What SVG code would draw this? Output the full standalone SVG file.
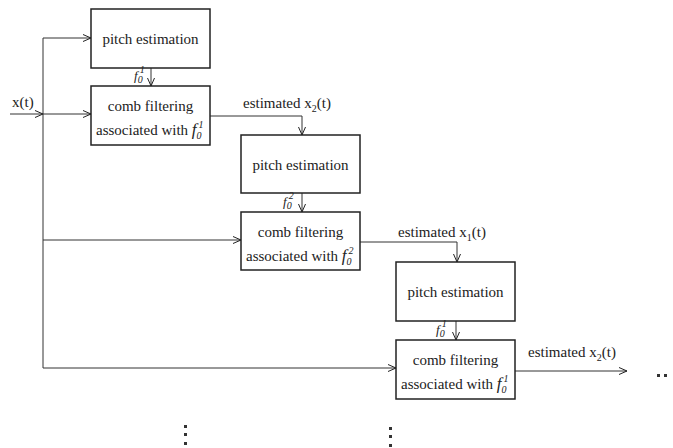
<svg xmlns="http://www.w3.org/2000/svg" width="673" height="448" viewBox="0 0 673 448" font-family="'Liberation Serif','Times New Roman',Times,serif">
<defs>
<marker id="arr" viewBox="0 0 8 8" refX="8" refY="4" markerWidth="8" markerHeight="8" markerUnits="userSpaceOnUse" orient="auto">
<path d="M0,0.5 L8,4 L0,7.5" fill="none" stroke="#222" stroke-width="1"/>
</marker>
</defs>
<style>
.box{fill:#fff;stroke:#222;stroke-width:1.5}
.ln{fill:none;stroke:#333;stroke-width:1}
.t{font-family:'Liberation Serif','Times New Roman',Times,serif;font-size:15px;fill:#222}
.it{font-style:italic}
.sm{font-family:'Liberation Serif','Times New Roman',Times,serif;font-size:13px;font-style:italic;fill:#222}
.dot{fill:#333}
</style>
<rect width="673" height="448" fill="#fff"/>
<g id="connectors">
<path class="ln" d="M10,114 L43,114" marker-end="url(#arr)"/>
<path class="ln" d="M43,38 L43,368"/>
<path class="ln" d="M43,38 L91,38" marker-end="url(#arr)"/>
<path class="ln" d="M43,114 L91,114" marker-end="url(#arr)"/>
<path class="ln" d="M43,240 L241,240" marker-end="url(#arr)"/>
<path class="ln" d="M43,368 L396,368" marker-end="url(#arr)"/>
<path class="ln" d="M151,68 L151,86" marker-end="url(#arr)"/>
<path class="ln" d="M210,116 L302,116 L302,135" marker-end="url(#arr)"/>
<path class="ln" d="M302,193 L302,212" marker-end="url(#arr)"/>
<path class="ln" d="M360,242 L457,242 L457,262" marker-end="url(#arr)"/>
<path class="ln" d="M456,321 L456,340" marker-end="url(#arr)"/>
<path class="ln" d="M515,371 L627,371" marker-end="url(#arr)"/>
</g>
<g id="n1"><rect class="box" x="91" y="9" width="119" height="59"/><text class="t" x="150.5" y="44" text-anchor="middle">pitch estimation</text></g>
<g id="n2"><rect class="box" x="91" y="86" width="119" height="59"/><text class="t" x="150.5" y="111" text-anchor="middle">comb filtering</text><text class="t" x="96" y="135">associated with <tspan class="it" font-size="17">f</tspan><tspan class="it" font-size="10" dy="4">0</tspan><tspan class="it" font-size="10" dx="-3" dy="-11">1</tspan></text></g>
<g id="n3"><rect class="box" x="241" y="135" width="119" height="58"/><text class="t" x="300.5" y="170" text-anchor="middle">pitch estimation</text></g>
<g id="n4"><rect class="box" x="241" y="212" width="119" height="58"/><text class="t" x="300.5" y="237" text-anchor="middle">comb filtering</text><text class="t" x="246" y="261">associated with <tspan class="it" font-size="17">f</tspan><tspan class="it" font-size="10" dy="4">0</tspan><tspan class="it" font-size="10" dx="-3" dy="-11">2</tspan></text></g>
<g id="n5"><rect class="box" x="396" y="262" width="119" height="59"/><text class="t" x="455.5" y="297" text-anchor="middle">pitch estimation</text></g>
<g id="n6"><rect class="box" x="396" y="340" width="119" height="59"/><text class="t" x="455.5" y="365" text-anchor="middle">comb filtering</text><text class="t" x="401" y="389">associated with <tspan class="it" font-size="17">f</tspan><tspan class="it" font-size="10" dy="4">0</tspan><tspan class="it" font-size="10" dx="-3" dy="-11">1</tspan></text></g>
<g id="labels">
<text class="t" x="12" y="107">x(t)</text>
<text class="sm" x="134" y="80">f<tspan font-size="10" dy="3">0</tspan><tspan font-size="10" dx="-3" dy="-10">1</tspan></text>
<text class="sm" x="283" y="206">f<tspan font-size="10" dy="3">0</tspan><tspan font-size="10" dx="-3" dy="-10">2</tspan></text>
<text class="sm" x="436" y="334">f<tspan font-size="10" dy="3">0</tspan><tspan font-size="10" dx="-3" dy="-10">1</tspan></text>
<text class="t" x="243" y="108">estimated x<tspan font-size="10" dy="4">2</tspan><tspan dy="-4">(t)</tspan></text>
<text class="t" x="398" y="237">estimated x<tspan font-size="10" dy="4">1</tspan><tspan dy="-4">(t)</tspan></text>
<text class="t" x="528" y="357">estimated x<tspan font-size="10" dy="4">2</tspan><tspan dy="-4">(t)</tspan></text>
</g>
<g id="dots">
<rect class="dot" x="184" y="425" width="3" height="3"/><rect class="dot" x="184" y="433" width="3" height="3"/><rect class="dot" x="184" y="442" width="3" height="3"/>
<rect class="dot" x="389" y="427" width="3" height="3"/><rect class="dot" x="389" y="435" width="3" height="3"/><rect class="dot" x="389" y="444" width="3" height="3"/>
<rect class="dot" x="657" y="374" width="3" height="3"/><rect class="dot" x="664" y="374" width="3" height="3"/>
</g>
</svg>
